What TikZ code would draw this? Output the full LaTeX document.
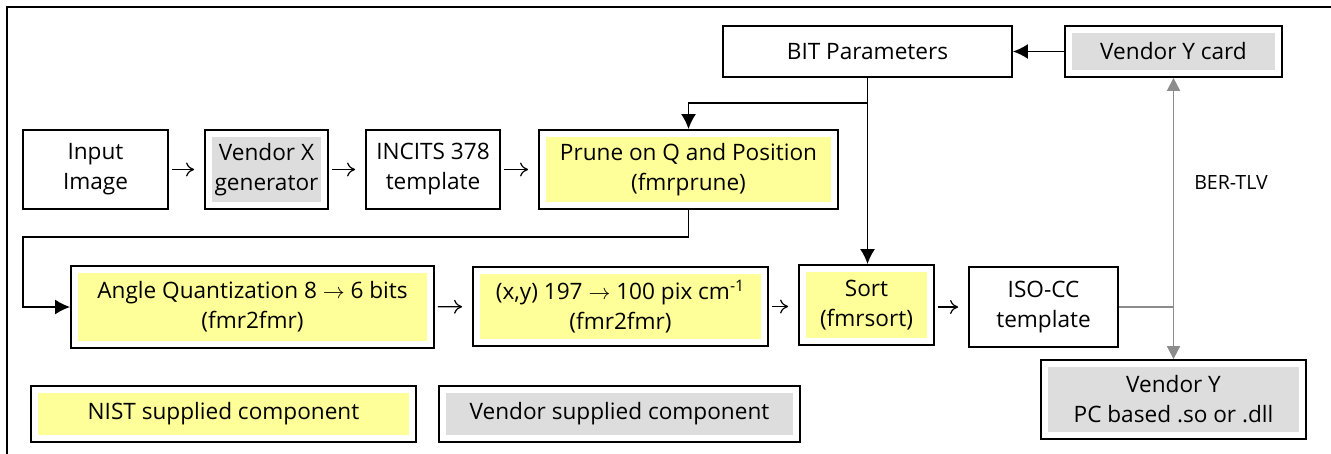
\documentclass[tikz,border=0pt]{standalone}
\usepackage{fontspec}
\setmainfont{Open Sans}
\usetikzlibrary{arrows.meta}
\definecolor{nistyellow}{RGB}{255,255,153}
\definecolor{vendgrey}{RGB}{221,221,221}
\definecolor{linkgrey}{RGB}{140,140,140}
\tikzset{
  blk/.style={draw, line width=.9pt, align=center, inner sep=0pt,
    font=\fontsize{11.3}{15}\selectfont},
  plainbox/.style={blk, fill=white},
  fillbox/.style={blk, path picture={\fill[#1]
    ([shift={(3.5pt,-3.5pt)}]path picture bounding box.north west) rectangle
    ([shift={(-3.5pt,3.5pt)}]path picture bounding box.south east);}},
  nistbox/.style={fillbox=nistyellow},
  vendbox/.style={fillbox=vendgrey},
  thinarrow/.style={-{To[length=4pt,width=7pt]}, line width=.6pt, shorten <=1.5pt, shorten >=5pt},
  link/.style={->, line width=.9pt},
  greylink/.style={line width=.9pt, draw=linkgrey}
}
\begin{document}
\begin{tikzpicture}[x=.5pt,y=-.5pt,>={Latex[length=7.5pt,width=7.5pt]}]
\useasboundingbox (0,0) rectangle (1331,454);
\draw[line width=1.1pt] (7,454)--(7,7)--(1331,7);
% first row
\node[plainbox, minimum width=72.5pt, minimum height=39.5pt] (input) at (95.5,169.5) {Input\\Image};
\node[vendbox, minimum width=61.5pt, minimum height=39.5pt] (vendx) at (266.5,169.5) {Vendor X\\generator};
\node[plainbox, minimum width=67pt, minimum height=39.5pt] (incits) at (433,169.5) {INCITS 378\\template};
\node[nistbox, minimum width=149.5pt, minimum height=39.5pt] (prune) at (688.5,169.5) {Prune on Q and Position\\(fmrprune)};
\node[plainbox, minimum width=144.5pt, minimum height=25.5pt] (bitpar) at (867.5,51.5) {BIT Parameters};
\node[vendbox, minimum width=108.5pt, minimum height=25.5pt] (vycard) at (1173.5,51.5) {Vendor Y card};
% second row
\node[nistbox, minimum width=181.5pt, minimum height=41pt] (angle) at (252.5,307) {Angle Quantization 8 $\rightarrow$ 6 bits\\(fmr2fmr)};
\node[nistbox, minimum width=147.5pt, minimum height=39.5pt] (xy) at (620.5,306.5) {(x,y) 197 $\rightarrow$ 100 pix cm\textsuperscript{-1}\\(fmr2fmr)};
\node[nistbox, minimum width=67.5pt, minimum height=40pt] (sort) at (866.5,305) {Sort\\(fmrsort)};
\node[plainbox, minimum width=74.5pt, minimum height=40pt] (isocc) at (1043.5,307) {ISO-CC\\template};
\node[vendbox, minimum width=132.5pt, minimum height=39.5pt] (vypc) at (1173.5,399.5) {Vendor Y\\ PC based .so or .dll};
% legend
\node[nistbox, minimum width=192.5pt, minimum height=28pt] (nist) at (223.5,414) {NIST supplied component};
\node[vendbox, minimum width=180.5pt, minimum height=28pt] (vendor) at (619.5,414) {Vendor supplied component};
\node[font=\fontsize{9.8}{12}\selectfont] (bertlv) at (1231,183) {BER-TLV};

\draw[thinarrow] (input) -- (vendx);
\draw[thinarrow] (vendx) -- (incits);
\draw[thinarrow] (incits) -- (prune);
\draw[thinarrow] (angle) -- (xy);
\draw[thinarrow] (xy.east) -- (sort.west |- xy.east);
\draw[thinarrow] (sort.east |- isocc.west) -- (isocc.west);

\draw[link] (vycard) -- (bitpar);
\draw[link] (bitpar.south) -- (bitpar.south |- sort.north);
\coordinate (br) at (867.5,103);
\draw[link] (br) -| (prune.north);
\coordinate (back) at (23,237);
\draw[link] (prune.south) |- (back) |- (angle.west);

\draw[greylink, <->, >={Triangle[length=6.5pt,width=6.5pt]}] (vycard) -- (vypc);
\draw[greylink] (isocc.east) -- (isocc.east -| vycard.south);
\end{tikzpicture}
\end{document}
